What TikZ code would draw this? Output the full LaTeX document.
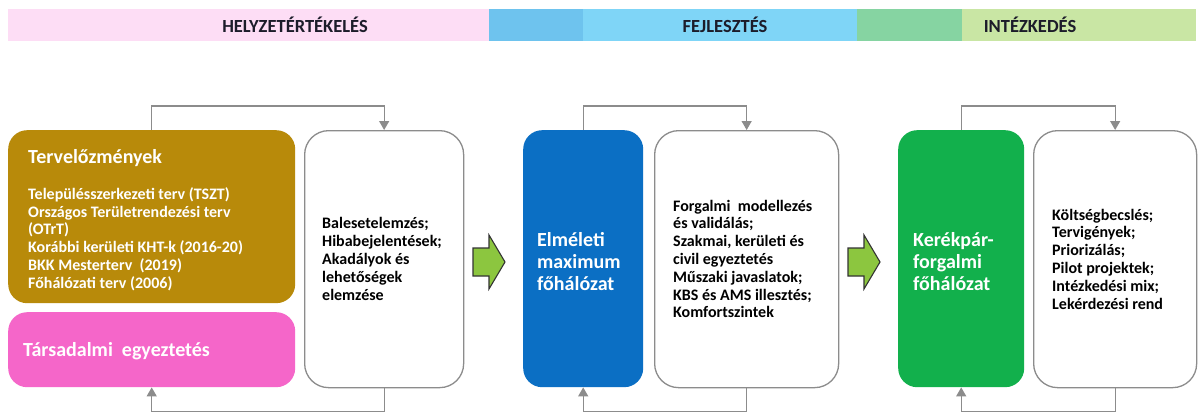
\documentclass[tikz,border=0pt]{standalone}
\usepackage{fontspec}
\setmainfont{Carlito}
\usetikzlibrary{arrows.meta}

\definecolor{bandPink}{HTML}{FDDDF5}
\definecolor{bandBlueA}{HTML}{6EC3EE}
\definecolor{bandBlueB}{HTML}{7FD5F7}
\definecolor{bandGreenA}{HTML}{86D4A2}
\definecolor{bandGreenB}{HTML}{C9E6A4}
\definecolor{goldBox}{HTML}{B88A0A}
\definecolor{pinkBox}{HTML}{F566C9}
\definecolor{blueBox}{HTML}{0B6FC4}
\definecolor{greenBox}{HTML}{12B04C}
\definecolor{loopGray}{HTML}{8C8C8C}
\definecolor{arrowGreen}{HTML}{8CC63F}
\definecolor{headText}{HTML}{1C1C2A}

\tikzset{
  bandtext/.style={font=\fontsize{18.5}{21}\selectfont\bfseries, text=headText},
  colbox/.style={rounded corners=19pt, inner sep=0pt, anchor=north west},
  whitebox/.style={rounded corners=24pt, inner sep=0pt, anchor=north west,
    draw=loopGray, line width=1.3pt, fill=white,
    minimum width=#1, minimum height=257pt},
  bodytext/.style={anchor=west, align=left, inner sep=0pt,
    font=\fontsize{16}{17.8}\selectfont\bfseries},
  bigtext/.style={anchor=west, align=left, inner sep=0pt, text=white,
    font=\fontsize{20}{22}\selectfont\bfseries},
  feedback/.style={draw=loopGray, line width=1.3pt,
    -{Triangle[width=10pt,length=9pt]}},
  stagearrow/.style={fill=arrowGreen, draw=black!80, line width=1.1pt, line join=miter}
}

\begin{document}
\begin{tikzpicture}[x=1pt, y=-1pt]
\useasboundingbox (0,0) rectangle (1202,412);
\fill[white] (0,0) rectangle (1202,412);

% phase header band
\fill[bandPink]   (8,9)   rectangle (489,41);
\fill[bandBlueA]  (489,9) rectangle (583,41);
\fill[bandBlueB]  (583,9) rectangle (857,41);
\fill[bandGreenA] (857,9) rectangle (962,41);
\fill[bandGreenB] (962,9) rectangle (1196,41);
\node[bandtext] (h1) at (295,25) {HELYZETÉRTÉKELÉS};
\node[bandtext] (h2) at (725,25) {FEJLESZTÉS};
\node[bandtext] (h3) at (1030,25) {INTÉZKEDÉS};

% stage 1: assessment
\node[colbox, fill=goldBox, minimum width=287pt, minimum height=173pt] (prev) at (8,130) {};
\node[colbox, fill=pinkBox, minimum width=287pt, minimum height=75pt] (soc) at (8,312) {};
\node[whitebox=159pt] (w1) at (304,130) {};
\node[bigtext] (prevtitle) at (28,158) {Tervelőzmények};
\node[bodytext, text=white] (prevlist) at (28,239) {Településszerkezeti terv (TSZT)\\
  Országos Területrendezési terv\\
  (OTrT)\\
  Korábbi kerületi KHT-k (2016-20)\\
  BKK Mesterterv\ \ (2019)\\
  Főhálózati terv (2006)};
\node[bigtext] (soctext) at (23,351) {Társadalmi\ \ egyeztetés};
\node[bodytext] (w1text) at (322,259) {Balesetelemzés;\\
  Hibabejelentések;\\
  Akadályok és\\
  lehetőségek\\
  elemzése};

% stage 2: development
\node[colbox, fill=blueBox, minimum width=120pt, minimum height=257pt] (theo) at (523,130) {};
\node[whitebox=184pt] (w2) at (654,130) {};
\node[bigtext] (theotext) at (537,262) {Elméleti\\ maximum\\ főhálózat};
\node[bodytext] (w2text) at (673,259) {Forgalmi\ \ modellezés\\
  és validálás;\\
  Szakmai, kerületi és\\
  civil egyeztetés\\
  Műszaki javaslatok;\\
  KBS és AMS illesztés;\\
  Komfortszintek};

% stage 3: measures
\node[colbox, fill=greenBox, minimum width=126pt, minimum height=257pt] (bike) at (898,130) {};
\node[whitebox=163pt] (w3) at (1033,130) {};
\node[bigtext] (biketext) at (913,262) {Kerékpár-\\ forgalmi\\ főhálózat};
\node[bodytext] (w3text) at (1052,259) {Költségbecslés;\\
  Tervigények;\\
  Priorizálás;\\
  Pilot projektek;\\
  Intézkedési mix;\\
  Lekérdezési rend};

% feedback loops between each coloured box and its analysis box
\draw[feedback] (prev.north) -- ++(0,-24) -| (w1.north);
\draw[feedback] (w1.south) -- ++(0,23) -| (soc.south);
\draw[feedback] (theo.north) -- ++(0,-24) -| (w2.north);
\draw[feedback] (w2.south) -- ++(0,23) -| (theo.south);
\draw[feedback] (bike.north) -- ++(0,-24) -| (w3.north);
\draw[feedback] (w3.south) -- ++(0,23) -| (bike.south);

% block arrows between the stages
\coordinate (a1) at (473,262);
\coordinate (a2) at (848,262);
\foreach \c in {a1,a2}{
  \filldraw[stagearrow] (\c) ++(0,-14) -- ++(16,0) -- ++(0,-13) -- ++(16,27)
    -- ++(-16,27) -- ++(0,-13) -- ++(-16,0) -- cycle;
}
\end{tikzpicture}
\end{document}
